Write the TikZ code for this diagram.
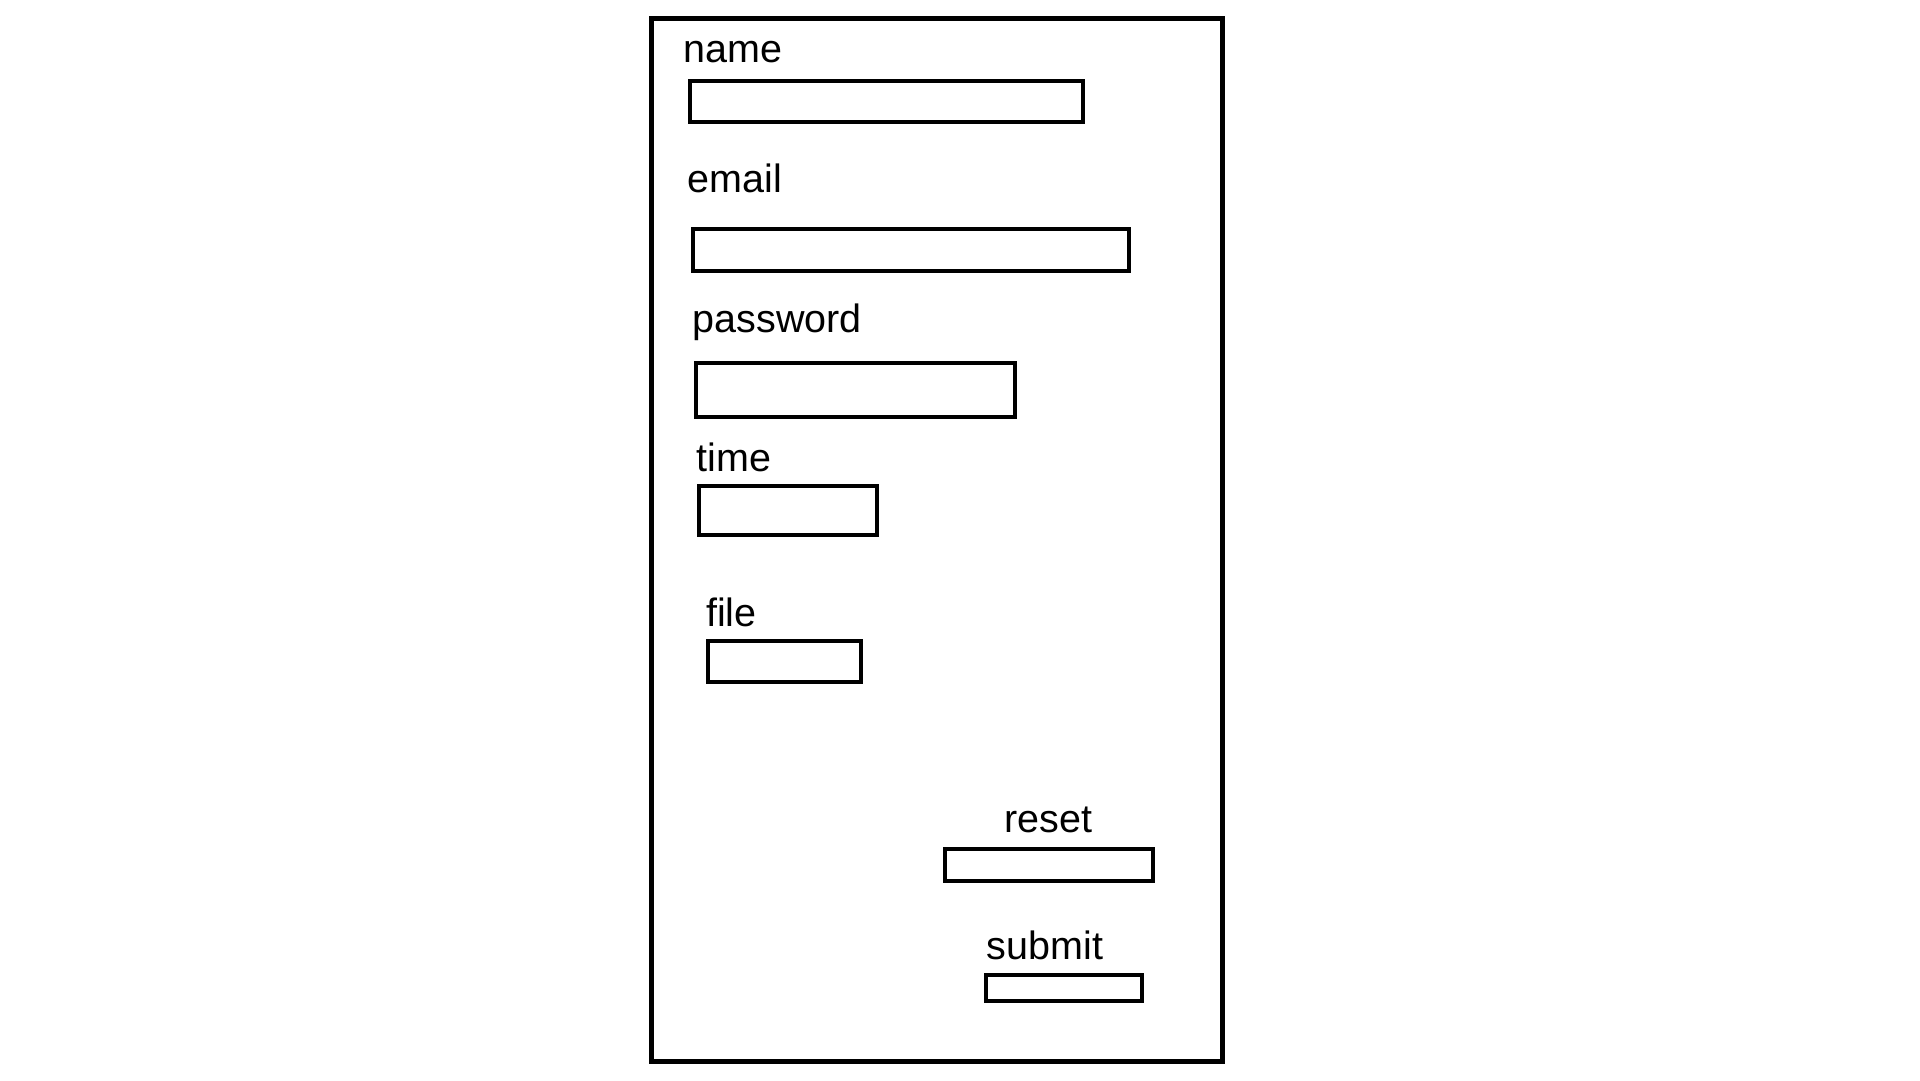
\documentclass[tikz,border=0pt]{standalone}
\usepackage{fontspec}
\setmainfont{Liberation Sans}
\begin{document}
\begin{tikzpicture}[x=1pt,y=-1pt,
  frame/.style={draw,line width=5.5pt,inner sep=0pt,anchor=north west},
  field/.style={draw,line width=4.5pt,inner sep=0pt,anchor=north west},
  lbl/.style={inner sep=0pt,anchor=base west,font=\fontsize{39.5}{47}\selectfont}]
\useasboundingbox[fill=white] (0,0) rectangle (1920,1080);
\node[frame,minimum width=571pt,minimum height=1043pt] (form) at (648.5,15.5) {};
% labels
\node[lbl] (lname) at (683,62.5) {name};
\node[lbl] (lemail) at (687.5,192.5) {email};
\node[lbl] (lpass) at (692.5,332.5) {password};
\node[lbl] (ltime) at (696.5,471.5) {time};
\node[lbl] (lfile) at (706,626.5) {file};
\node[lbl] (lreset) at (1004,832.5) {reset};
\node[lbl] (lsubmit) at (986.5,959.5) {submit};
% fields
\node[field,minimum width=393pt,minimum height=41pt] (fname) at (687.5,78.5) {};
\node[field,minimum width=436pt,minimum height=42pt] (femail) at (690.5,226.5) {};
\node[field,minimum width=319pt,minimum height=54pt] (fpass) at (693.5,360.5) {};
\node[field,minimum width=178pt,minimum height=49pt] (ftime) at (696.5,483.5) {};
\node[field,minimum width=153pt,minimum height=41pt] (ffile) at (705.5,638.5) {};
\node[field,minimum width=208pt,minimum height=32pt] (freset) at (942.5,846.5) {};
\node[field,minimum width=156pt,minimum height=26pt] (fsubmit) at (983.5,972.5) {};
\end{tikzpicture}
\end{document}
